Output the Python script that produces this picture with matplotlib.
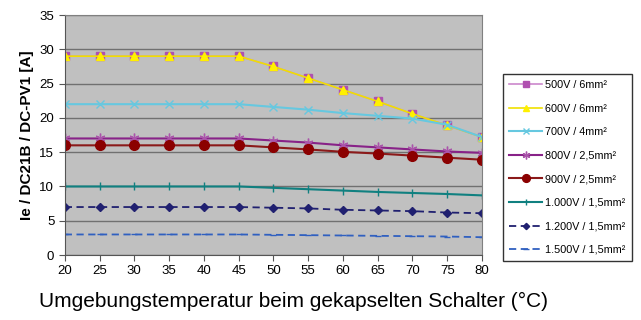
import matplotlib
matplotlib.use("Agg")
from matplotlib import pyplot as plt

plt.rcParams['font.family'] = ['Liberation Sans', 'DejaVu Sans']

temps = [20, 25, 30, 35, 40, 45, 50, 55, 60, 65, 70, 75, 80]

labels = ["500V / 6mm²", "600V / 6mm²", "700V / 4mm²", "800V / 2,5mm²",
          "900V / 2,5mm²", "1.000V / 1,5mm²", "1.200V / 1,5mm²", "1.500V / 1,5mm²"]

v500 = [29, 29, 29, 29, 29, 29, 27.5, 25.8, 24.1, 22.4, 20.6, 18.9, 17.2]
v600 = [29, 29, 29, 29, 29, 29, 27.5, 25.8, 24.1, 22.4, 20.6, 18.9, 17.2]
v700 = [22, 22, 22, 22, 22, 22, 21.6, 21.2, 20.7, 20.3, 19.9, 19.0, 17.2]
v800 = [17, 17, 17, 17, 17, 17, 16.7, 16.4, 16.0, 15.7, 15.4, 15.1, 14.9]
v900 = [16, 16, 16, 16, 16, 16, 15.7, 15.4, 15.05, 14.8, 14.5, 14.2, 13.9]
v1000 = [10, 10, 10, 10, 10, 10, 9.8, 9.6, 9.4, 9.2, 9.05, 8.9, 8.7]
v1200 = [7, 7, 7, 7, 7, 7, 6.9, 6.8, 6.6, 6.5, 6.4, 6.2, 6.1]
v1500 = [3, 3, 3, 3, 3, 3, 2.95, 2.9, 2.85, 2.8, 2.75, 2.7, 2.6]

series = [v500, v600, v700, v800, v900, v1000, v1200, v1500]

styles = [
    dict(color="#CC88CC", marker="s", mfc="#B050B0", mec="#B050B0", ms=5.5, ls="-", lw=1.2),
    dict(color="#F0E000", marker="^", mfc="#FFF000", mec="#FFF000", ms=6, ls="-", lw=1.2),
    dict(color="#66C8E0", marker="x", mfc="#66C8E0", mec="#66C8E0", ms=6, ls="-", lw=1.5),
    dict(color="#882288", marker=(6, 2, 0), mfc="#AA55AA", mec="#AA55AA", ms=7, ls="-", lw=1.5),
    dict(color="#8B1A1A", marker="o", mfc="#8B0000", mec="#8B0000", ms=7, ls="-", lw=1.5),
    dict(color="#108080", marker="|", mfc="#108080", mec="#108080", ms=6, ls="-", lw=1.5),
    dict(color="#202070", marker="D", mfc="#202070", mec="#202070", ms=4, ls=(0, (4, 2.5)), lw=1.3),
    dict(color="#3060C0", marker="_", mfc="#3060C0", mec="#3060C0", ms=5, ls=(0, (4, 2.5)), lw=1.3),
]

fig = plt.figure(figsize=(6.41, 3.2), dpi=100)
ax = fig.add_axes([0.101, 0.203, 0.651, 0.750])
ax.set_facecolor("#C0C0C0")

for vals, lab, st in zip(series, labels, styles):
    ax.plot(temps, vals, label=lab, **st)

ax.set_xlim(20, 80)
ax.set_ylim(0, 35)
ax.set_xticks(temps)
ax.set_yticks(range(0, 36, 5))
ax.grid(axis="y", color="#707070", lw=1)
ax.set_axisbelow(True)
ax.tick_params(labelsize=9.5, length=4, color="#555555")
for s in ["top", "right"]:
    ax.spines[s].set_color("#808080")
ax.spines["left"].set_color("#555555")
ax.spines["bottom"].set_color("#555555")

ax.set_ylabel("Ie / DC21B / DC-PV1 [A]", fontsize=11, fontweight="bold")
ax.set_xlabel("Umgebungstemperatur beim gekapselten Schalter (°C)", fontsize=15)
ax.xaxis.set_label_coords(0.549, -0.155)

leg = fig.legend(loc="upper left", bbox_to_anchor=(0.776, 0.787), fontsize=7.8,
                 frameon=True, fancybox=False, edgecolor="black", borderpad=0.6,
                 labelspacing=1.25, handlelength=3.0, handletextpad=0.3, markerscale=0.8)
leg.get_frame().set_linewidth(1.0)

fig.savefig("out.png", dpi=100)
